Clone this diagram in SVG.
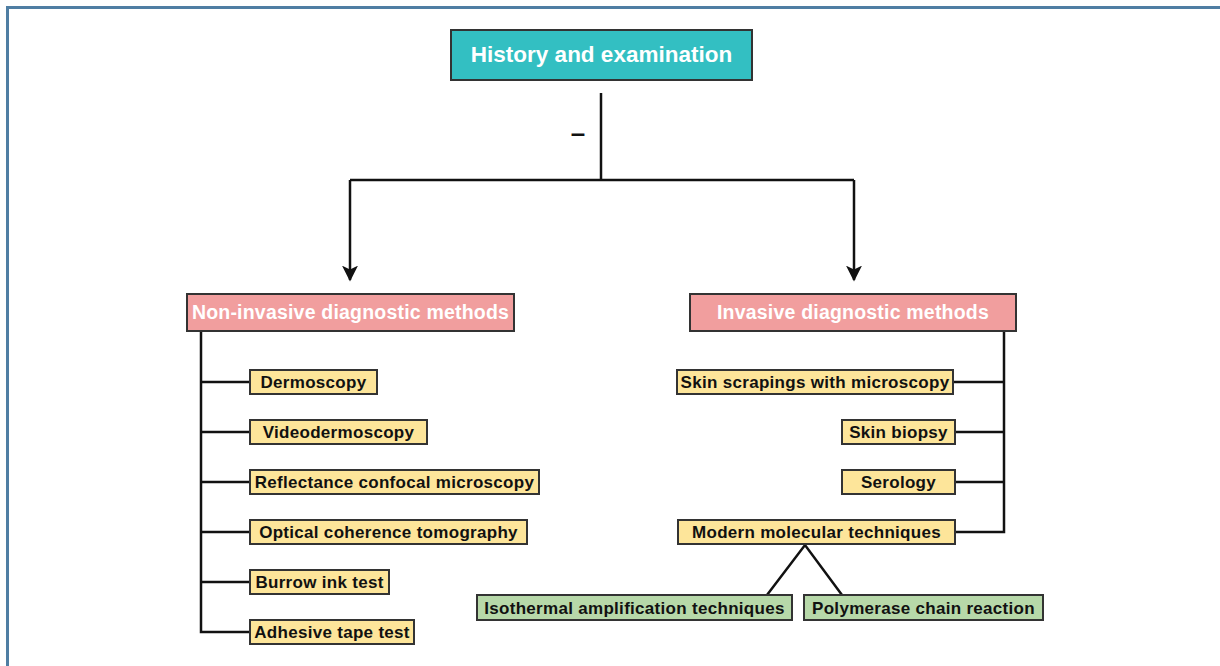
<svg xmlns="http://www.w3.org/2000/svg" width="1220" height="666" viewBox="0 0 1220 666">
<defs>
<marker id="arr" viewBox="0 0 10 10" refX="9" refY="5" markerWidth="6.4" markerHeight="6.4" markerUnits="strokeWidth" orient="auto">
<path d="M0,0 L10,5 L0,10 L2.5,5 z" fill="#111"/>
</marker>
</defs>
<style>
text{font-family:"Liberation Sans",Arial,sans-serif;font-weight:bold;text-anchor:middle}
.frame{fill:none;stroke:#4f7ea3;stroke-width:3}
.top{fill:#33bfc2;stroke:#333;stroke-width:2}
.top-t{fill:#fff;font-size:22.5px}
.cat{fill:#f19e9e;stroke:#333;stroke-width:2}
.cat-t{fill:#fff;font-size:19.5px;letter-spacing:0.2px}
.item{fill:#fde59a;stroke:#333;stroke-width:2}
.sub{fill:#b7d8a9;stroke:#333;stroke-width:2}
.it{fill:#111;font-size:17px;letter-spacing:0.3px}
.ln{fill:none;stroke:#111;stroke-width:2.5}
</style>
<rect width="1220" height="666" fill="#fff"/>
<path class="frame" d="M7.5,700 V7.5 H1230"/>

<g id="connectors">
<path class="ln" d="M601,93 V180"/>
<path class="ln" d="M350,180 H854"/>
<path class="ln" d="M350,180 V280" marker-end="url(#arr)"/>
<path class="ln" d="M854,180 V280" marker-end="url(#arr)"/>
<path class="ln" d="M201,331 V632 H250 M201,382 H250 M201,432 H250 M201,482 H250 M201,532 H250 M201,582 H250"/>
<path class="ln" d="M1004,331 V532 H955 M1004,382 H953 M1004,432 H955 M1004,482 H955"/>
<path class="ln" d="M767,595 L805,545 L842,595"/>
</g>
<text x="578" y="142" style="font-size:26px;fill:#111">–</text>

<g id="history"><rect class="top" x="451" y="30" width="301" height="50"/><text class="top-t" x="601.5" y="62">History and examination</text></g>

<g id="noninvasive"><rect class="cat" x="187" y="294" width="327" height="37"/><text class="cat-t" x="350.5" y="319">Non-invasive diagnostic methods</text></g>
<g id="invasive"><rect class="cat" x="690" y="294" width="326" height="37"/><text class="cat-t" x="853" y="319">Invasive diagnostic methods</text></g>

<g id="dermoscopy"><rect class="item" x="250" y="370" width="127" height="24"/><text class="it" x="313.5" y="388">Dermoscopy</text></g>
<g id="videodermoscopy"><rect class="item" x="250" y="420" width="177" height="24"/><text class="it" x="338.5" y="438">Videodermoscopy</text></g>
<g id="rcm"><rect class="item" x="250" y="470" width="289" height="24"/><text class="it" x="394.5" y="488">Reflectance confocal microscopy</text></g>
<g id="oct"><rect class="item" x="250" y="520" width="277" height="24"/><text class="it" x="388.5" y="538">Optical coherence tomography</text></g>
<g id="burrow"><rect class="item" x="250" y="570" width="139" height="24"/><text class="it" x="319.5" y="588">Burrow ink test</text></g>
<g id="adhesive"><rect class="item" x="250" y="620" width="164" height="24"/><text class="it" x="332" y="638">Adhesive tape test</text></g>

<g id="scrapings"><rect class="item" x="677" y="370" width="276" height="24"/><text class="it" x="815" y="388">Skin scrapings with microscopy</text></g>
<g id="biopsy"><rect class="item" x="842" y="420" width="113" height="24"/><text class="it" x="898.5" y="438">Skin biopsy</text></g>
<g id="serology"><rect class="item" x="842" y="470" width="113" height="24"/><text class="it" x="898.5" y="488">Serology</text></g>
<g id="molecular"><rect class="item" x="678" y="520" width="277" height="24"/><text class="it" x="816.5" y="538">Modern molecular techniques</text></g>

<g id="isothermal"><rect class="sub" x="477" y="595" width="315" height="25"/><text class="it" x="634.5" y="614">Isothermal amplification techniques</text></g>
<g id="pcr"><rect class="sub" x="804" y="595" width="239" height="25"/><text class="it" x="923.5" y="614">Polymerase chain reaction</text></g>
</svg>
